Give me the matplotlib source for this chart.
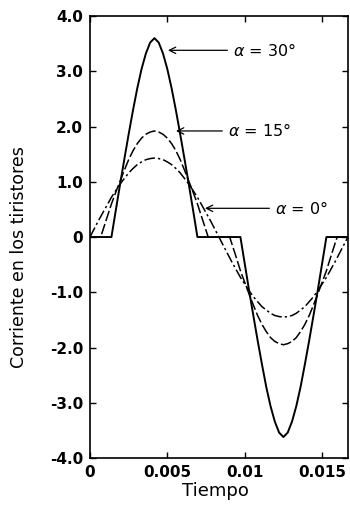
import matplotlib
matplotlib.use("Agg")
import matplotlib.pyplot as plt

# sample times (s), one cycle at 60 Hz
tiempo = [0, 0.000278, 0.000556, 0.000833, 0.001111, 0.001389, 0.001667, 0.001944,
          0.002222, 0.0025, 0.002778, 0.003056, 0.003333, 0.003611, 0.003889, 0.004167,
          0.004444, 0.004722, 0.005, 0.005278, 0.005556, 0.005833, 0.006111, 0.006389,
          0.006667, 0.006944, 0.007222, 0.0075, 0.007778, 0.008056, 0.008333, 0.008611,
          0.008889, 0.009167, 0.009444, 0.009722, 0.01, 0.010278, 0.010556, 0.010833,
          0.011111, 0.011389, 0.011667, 0.011944, 0.012222, 0.0125, 0.012778, 0.013056,
          0.013333, 0.013611, 0.013889, 0.014167, 0.014444, 0.014722, 0.015, 0.015278,
          0.015556, 0.015833, 0.016111, 0.016389, 0.016667]

# alpha = 0 deg
i_alfa0 = [0, 0.15, 0.30, 0.44, 0.58, 0.72, 0.84, 0.96, 1.06, 1.16, 1.24, 1.31, 1.36, 1.40,
           1.42, 1.43, 1.42, 1.40, 1.36, 1.31, 1.24, 1.16, 1.06, 0.96, 0.84, 0.72, 0.58,
           0.44, 0.30, 0.15, 0, -0.15, -0.30, -0.45, -0.59, -0.73, -0.85, -0.97, -1.08,
           -1.17, -1.26, -1.32, -1.38, -1.42, -1.44, -1.45, -1.44, -1.42, -1.38, -1.32,
           -1.26, -1.17, -1.08, -0.97, -0.85, -0.73, -0.59, -0.45, -0.30, -0.15, 0]

# alpha = 30 deg
i_alfa30 = [0, 0, 0, 0, 0, 0, 0.48, 0.95, 1.41, 1.86, 2.29, 2.69, 3.04, 3.32, 3.52, 3.60,
            3.52, 3.32, 3.04, 2.69, 2.29, 1.86, 1.41, 0.95, 0.48, 0, 0, 0, 0, 0, 0, 0, 0,
            0, 0, 0, -0.48, -0.96, -1.42, -1.87, -2.30, -2.71, -3.06, -3.34, -3.54, -3.62,
            -3.54, -3.34, -3.06, -2.71, -2.30, -1.87, -1.42, -0.96, -0.48, 0, 0, 0, 0, 0, 0]

# alpha = 15 deg (own time samples, includes the switching instants)
tiempo_15 = [0, 0.000278, 0.000556, 0.000694, 0.000833, 0.001111, 0.001389, 0.001667,
             0.001944, 0.002222, 0.0025, 0.002778, 0.003056, 0.003333, 0.003611, 0.003889,
             0.004167, 0.004444, 0.004722, 0.005, 0.005278, 0.005556, 0.005833, 0.006111,
             0.006389, 0.006667, 0.006944, 0.007222, 0.0075, 0.007639, 0.007778, 0.008056,
             0.008333, 0.008611, 0.008889, 0.009028, 0.009167, 0.009444, 0.009722, 0.01,
             0.010278, 0.010556, 0.010833, 0.011111, 0.011389, 0.011667, 0.011944, 0.012222,
             0.0125, 0.012778, 0.013056, 0.013333, 0.013611, 0.013889, 0.014167, 0.014444,
             0.014722, 0.015, 0.015278, 0.015556, 0.015833, 0.015972, 0.016111, 0.016389,
             0.016667]
i_alfa15 = [0, 0, 0, 0, 0.12, 0.36, 0.60, 0.81, 1.01, 1.21, 1.40, 1.56, 1.69, 1.79, 1.86,
            1.90, 1.92, 1.90, 1.86, 1.79, 1.69, 1.56, 1.40, 1.21, 1.01, 0.81, 0.60, 0.36,
            0.12, 0, 0, 0, 0, 0, 0, 0, -0.12, -0.36, -0.61, -0.82, -1.03, -1.23, -1.42,
            -1.58, -1.71, -1.82, -1.89, -1.93, -1.95, -1.93, -1.89, -1.82, -1.71, -1.58,
            -1.42, -1.23, -1.03, -0.82, -0.61, -0.36, -0.12, 0, 0, 0, 0]

yticks = [-4, -3, -2, -1, 0, 1, 2, 3, 4]
ytick_labels = ["-4.0", "-3.0", "-2.0", "-1.0", "0", "1.0", "2.0", "3.0", "4.0"]
xticks = [0, 0.005, 0.01, 0.015]
xtick_labels = ["0", "0.005", "0.01", "0.015"]

fig = plt.figure(figsize=(3.5, 5.08), dpi=100)
ax = fig.add_axes([0.257, 0.0984, 0.737, 0.87])

ax.plot(tiempo, i_alfa30, color="black", lw=1.4)
ax.plot(tiempo_15, i_alfa15, color="black", lw=1.1, ls=(0, (7, 2)))
ax.plot(tiempo, i_alfa0, color="black", lw=1.1, ls=(0, (7, 2, 1.5, 2)))

ax.set_xlim(0, 1 / 60)
ax.set_ylim(-4, 4)
ax.set_yticks(yticks)
ax.set_yticklabels(ytick_labels)
ax.set_xticks(xticks)
ax.set_xticklabels(xtick_labels)
ax.tick_params(direction="in", top=True, right=True, length=4, width=1,
               labelsize=11, pad=5)
for lab in ax.get_xticklabels() + ax.get_yticklabels():
    lab.set_fontweight("bold")
for sp in ax.spines.values():
    sp.set_linewidth(1.2)

ax.set_xlabel("Tiempo", fontsize=13)
ax.set_ylabel("Corriente en los tiristores", fontsize=12.5)
ax.xaxis.set_label_coords(0.485, -0.055)
ax.yaxis.set_label_coords(-0.24, 0.455)

arrow = dict(arrowstyle="->", color="black", lw=0.9, shrinkA=2, shrinkB=0)
ax.annotate(r"$\alpha$ = 30°", xy=(0.00504, 3.38), xytext=(0.00924, 3.38),
            fontsize=11.5, va="center", ha="left", arrowprops=arrow)
ax.annotate(r"$\alpha$ = 15°", xy=(0.00556, 1.92), xytext=(0.00891, 1.92),
            fontsize=11.5, va="center", ha="left", arrowprops=arrow)
ax.annotate(r"$\alpha$ = 0°", xy=(0.00743, 0.52), xytext=(0.01195, 0.52),
            fontsize=11.5, va="center", ha="left", arrowprops=arrow)

fig.savefig("out.png", dpi=100)
